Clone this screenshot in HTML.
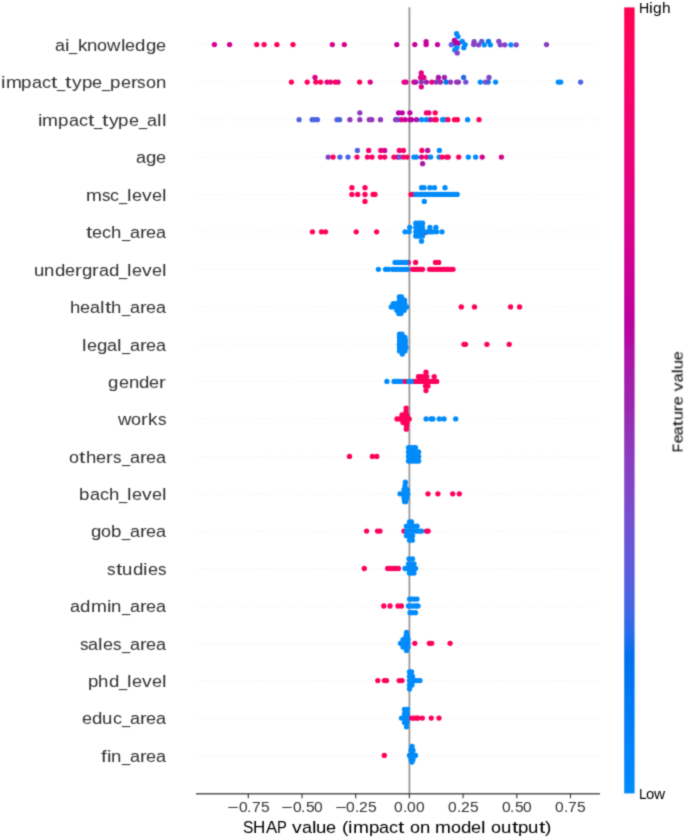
<!DOCTYPE html>
<html><head><meta charset="utf-8"><style>
html,body{margin:0;padding:0;background:#fff;}
body{width:685px;height:839px;overflow:hidden;position:relative;font-family:"Liberation Sans",sans-serif;}
#wrap{position:absolute;left:0;top:0;width:685px;height:839px;background:#fff;}
svg{position:absolute;left:0;top:0;}
.t{position:absolute;white-space:nowrap;line-height:1;transform-origin:0 0;}
.c{position:absolute;white-space:nowrap;line-height:1;width:1px;height:1px;}
.c span{position:absolute;top:0;transform-origin:0 0;}
</style></head><body><svg width="0" height="0" style="position:absolute"><filter id="bl" x="0" y="0" width="100%" height="100%" color-interpolation-filters="sRGB"><feConvolveMatrix order="3" kernelMatrix="0.02768 0.11101 0.02768 0.11101 0.44521 0.11101 0.02768 0.11101 0.02768" edgeMode="duplicate"/></filter></svg><div id="wrap" style="filter:url(#bl)">

<svg width="685" height="839" viewBox="0 0 685 839">
<defs><linearGradient id="cb" x1="0" y1="0" x2="0" y2="1"><stop offset="0.0000" stop-color="#ff0051"/><stop offset="0.0250" stop-color="#ff0057"/><stop offset="0.0500" stop-color="#fe005c"/><stop offset="0.0750" stop-color="#fc0062"/><stop offset="0.1000" stop-color="#f90067"/><stop offset="0.1250" stop-color="#f5006c"/><stop offset="0.1500" stop-color="#f20072"/><stop offset="0.1750" stop-color="#ee0077"/><stop offset="0.2000" stop-color="#e9007c"/><stop offset="0.2250" stop-color="#e50081"/><stop offset="0.2500" stop-color="#e00086"/><stop offset="0.2750" stop-color="#da008a"/><stop offset="0.3000" stop-color="#d5008f"/><stop offset="0.3250" stop-color="#cf0093"/><stop offset="0.3500" stop-color="#c80098"/><stop offset="0.3750" stop-color="#c2009c"/><stop offset="0.4000" stop-color="#bb00a0"/><stop offset="0.4250" stop-color="#b30aa3"/><stop offset="0.4500" stop-color="#ab15a7"/><stop offset="0.4750" stop-color="#a31daa"/><stop offset="0.5000" stop-color="#9b23ad"/><stop offset="0.5250" stop-color="#962db3"/><stop offset="0.5500" stop-color="#9135ba"/><stop offset="0.5750" stop-color="#8b3cc0"/><stop offset="0.6000" stop-color="#8443c6"/><stop offset="0.6250" stop-color="#7d49cb"/><stop offset="0.6500" stop-color="#754fd1"/><stop offset="0.6750" stop-color="#6c54d6"/><stop offset="0.7000" stop-color="#6359da"/><stop offset="0.7250" stop-color="#585edf"/><stop offset="0.7500" stop-color="#4b63e3"/><stop offset="0.7750" stop-color="#3b68e7"/><stop offset="0.8000" stop-color="#236cea"/><stop offset="0.8250" stop-color="#0070ed"/><stop offset="0.8500" stop-color="#0074f0"/><stop offset="0.8750" stop-color="#0078f3"/><stop offset="0.9000" stop-color="#007cf5"/><stop offset="0.9250" stop-color="#0080f7"/><stop offset="0.9500" stop-color="#0084f9"/><stop offset="0.9750" stop-color="#0087fa"/><stop offset="1.0000" stop-color="#008bfb"/></linearGradient></defs>
<line x1="196" y1="44.6" x2="600" y2="44.6" stroke="#cccccc" stroke-width="0.55" stroke-dasharray="0.7 3.05"/>
<line x1="196" y1="82.1" x2="600" y2="82.1" stroke="#cccccc" stroke-width="0.55" stroke-dasharray="0.7 3.05"/>
<line x1="196" y1="119.7" x2="600" y2="119.7" stroke="#cccccc" stroke-width="0.55" stroke-dasharray="0.7 3.05"/>
<line x1="196" y1="157.1" x2="600" y2="157.1" stroke="#cccccc" stroke-width="0.55" stroke-dasharray="0.7 3.05"/>
<line x1="196" y1="194.4" x2="600" y2="194.4" stroke="#cccccc" stroke-width="0.55" stroke-dasharray="0.7 3.05"/>
<line x1="196" y1="231.8" x2="600" y2="231.8" stroke="#cccccc" stroke-width="0.55" stroke-dasharray="0.7 3.05"/>
<line x1="196" y1="269.3" x2="600" y2="269.3" stroke="#cccccc" stroke-width="0.55" stroke-dasharray="0.7 3.05"/>
<line x1="196" y1="306.9" x2="600" y2="306.9" stroke="#cccccc" stroke-width="0.55" stroke-dasharray="0.7 3.05"/>
<line x1="196" y1="344.3" x2="600" y2="344.3" stroke="#cccccc" stroke-width="0.55" stroke-dasharray="0.7 3.05"/>
<line x1="196" y1="381.4" x2="600" y2="381.4" stroke="#cccccc" stroke-width="0.55" stroke-dasharray="0.7 3.05"/>
<line x1="196" y1="418.9" x2="600" y2="418.9" stroke="#cccccc" stroke-width="0.55" stroke-dasharray="0.7 3.05"/>
<line x1="196" y1="456.4" x2="600" y2="456.4" stroke="#cccccc" stroke-width="0.55" stroke-dasharray="0.7 3.05"/>
<line x1="196" y1="493.8" x2="600" y2="493.8" stroke="#cccccc" stroke-width="0.55" stroke-dasharray="0.7 3.05"/>
<line x1="196" y1="531.1" x2="600" y2="531.1" stroke="#cccccc" stroke-width="0.55" stroke-dasharray="0.7 3.05"/>
<line x1="196" y1="568.5" x2="600" y2="568.5" stroke="#cccccc" stroke-width="0.55" stroke-dasharray="0.7 3.05"/>
<line x1="196" y1="606.0" x2="600" y2="606.0" stroke="#cccccc" stroke-width="0.55" stroke-dasharray="0.7 3.05"/>
<line x1="196" y1="643.3" x2="600" y2="643.3" stroke="#cccccc" stroke-width="0.55" stroke-dasharray="0.7 3.05"/>
<line x1="196" y1="680.6" x2="600" y2="680.6" stroke="#cccccc" stroke-width="0.55" stroke-dasharray="0.7 3.05"/>
<line x1="196" y1="718.1" x2="600" y2="718.1" stroke="#cccccc" stroke-width="0.55" stroke-dasharray="0.7 3.05"/>
<line x1="196" y1="755.4" x2="600" y2="755.4" stroke="#cccccc" stroke-width="0.55" stroke-dasharray="0.7 3.05"/>
<line x1="409.4" y1="7.3" x2="409.4" y2="794" stroke="#999999" stroke-width="1.8"/>
<circle cx="214.4" cy="44.6" r="2.65" fill="#d5008f"/>
<circle cx="229.6" cy="44.6" r="2.65" fill="#d5008f"/>
<circle cx="256.7" cy="44.6" r="2.65" fill="#fe005c"/>
<circle cx="264.1" cy="44.6" r="2.65" fill="#fe005c"/>
<circle cx="276.9" cy="44.6" r="2.65" fill="#fe005c"/>
<circle cx="293.0" cy="44.6" r="2.65" fill="#fe005c"/>
<circle cx="332.3" cy="44.6" r="2.65" fill="#d9008b"/>
<circle cx="344.3" cy="44.6" r="2.65" fill="#d9008b"/>
<circle cx="396.8" cy="44.6" r="2.65" fill="#c0009c"/>
<circle cx="414.8" cy="44.6" r="2.65" fill="#c80098"/>
<circle cx="426.1" cy="41.6" r="2.65" fill="#c80098"/>
<circle cx="426.1" cy="44.6" r="2.65" fill="#c80098"/>
<circle cx="437.5" cy="44.6" r="2.65" fill="#c80098"/>
<circle cx="454.4" cy="40.4" r="2.65" fill="#bb00a0"/>
<circle cx="456.3" cy="42.6" r="2.65" fill="#bb00a0"/>
<circle cx="458.2" cy="43.2" r="2.65" fill="#bb00a0"/>
<circle cx="455.2" cy="43.5" r="2.65" fill="#bb00a0"/>
<circle cx="451.3" cy="44.7" r="2.65" fill="#5a5dde"/>
<circle cx="456.6" cy="33.7" r="2.65" fill="#008bfb"/>
<circle cx="458.0" cy="36.6" r="2.65" fill="#008bfb"/>
<circle cx="462.3" cy="41.4" r="2.65" fill="#008bfb"/>
<circle cx="465.1" cy="44.6" r="2.65" fill="#008bfb"/>
<circle cx="463.8" cy="47.7" r="2.65" fill="#008bfb"/>
<circle cx="456.9" cy="47.4" r="2.65" fill="#008bfb"/>
<circle cx="454.8" cy="49.9" r="2.65" fill="#008bfb"/>
<circle cx="457.2" cy="52.9" r="2.65" fill="#8443c6"/>
<circle cx="474.1" cy="41.7" r="2.65" fill="#8443c6"/>
<circle cx="473.7" cy="44.5" r="2.65" fill="#8443c6"/>
<circle cx="478.6" cy="44.8" r="2.65" fill="#8443c6"/>
<circle cx="481.7" cy="41.3" r="2.65" fill="#6359da"/>
<circle cx="484.3" cy="44.8" r="2.65" fill="#008bfb"/>
<circle cx="488.5" cy="41.3" r="2.65" fill="#007cf5"/>
<circle cx="490.4" cy="44.8" r="2.65" fill="#008bfb"/>
<circle cx="498.8" cy="41.3" r="2.65" fill="#8443c6"/>
<circle cx="500.3" cy="44.8" r="2.65" fill="#8443c6"/>
<circle cx="504.8" cy="44.8" r="2.65" fill="#8443c6"/>
<circle cx="510.9" cy="44.8" r="2.65" fill="#008bfb"/>
<circle cx="516.2" cy="44.8" r="2.65" fill="#8443c6"/>
<circle cx="546.5" cy="44.6" r="2.65" fill="#893dc1"/>
<circle cx="291.4" cy="82.1" r="2.65" fill="#fe005c"/>
<circle cx="307.2" cy="82.1" r="2.65" fill="#fe005c"/>
<circle cx="315.0" cy="77.5" r="2.65" fill="#e00086"/>
<circle cx="315.8" cy="82.1" r="2.65" fill="#fe005c"/>
<circle cx="320.6" cy="82.1" r="2.65" fill="#fe005c"/>
<circle cx="327.0" cy="82.1" r="2.65" fill="#e9007c"/>
<circle cx="330.4" cy="82.1" r="2.65" fill="#e9007c"/>
<circle cx="335.2" cy="82.1" r="2.65" fill="#fe005c"/>
<circle cx="338.1" cy="82.1" r="2.65" fill="#e9007c"/>
<circle cx="359.6" cy="82.1" r="2.65" fill="#fe005c"/>
<circle cx="370.2" cy="82.1" r="2.65" fill="#e00086"/>
<circle cx="404.1" cy="82.1" r="2.65" fill="#e00086"/>
<circle cx="406.0" cy="82.1" r="2.65" fill="#e00086"/>
<circle cx="413.9" cy="82.1" r="2.65" fill="#d9008b"/>
<circle cx="415.8" cy="82.1" r="2.65" fill="#ab15a7"/>
<circle cx="421.3" cy="72.9" r="2.65" fill="#e00086"/>
<circle cx="420.6" cy="77.5" r="2.65" fill="#e00086"/>
<circle cx="423.8" cy="77.5" r="2.65" fill="#e00086"/>
<circle cx="421.3" cy="82.1" r="2.65" fill="#9135ba"/>
<circle cx="421.3" cy="86.8" r="2.65" fill="#e00086"/>
<circle cx="426.4" cy="82.1" r="2.65" fill="#9b23ad"/>
<circle cx="431.8" cy="82.1" r="2.65" fill="#e9007c"/>
<circle cx="436.2" cy="82.1" r="2.65" fill="#9135ba"/>
<circle cx="438.4" cy="77.5" r="2.65" fill="#ab15a7"/>
<circle cx="440.4" cy="82.1" r="2.65" fill="#9b23ad"/>
<circle cx="444.4" cy="77.5" r="2.65" fill="#9b23ad"/>
<circle cx="446.1" cy="82.1" r="2.65" fill="#0074f0"/>
<circle cx="450.5" cy="82.1" r="2.65" fill="#9135ba"/>
<circle cx="456.6" cy="82.1" r="2.65" fill="#9135ba"/>
<circle cx="458.4" cy="82.1" r="2.65" fill="#9135ba"/>
<circle cx="463.6" cy="77.5" r="2.65" fill="#236cea"/>
<circle cx="465.8" cy="82.1" r="2.65" fill="#754fd1"/>
<circle cx="480.3" cy="82.1" r="2.65" fill="#008bfb"/>
<circle cx="488.2" cy="82.1" r="2.65" fill="#236cea"/>
<circle cx="485.5" cy="82.1" r="2.65" fill="#754fd1"/>
<circle cx="489.0" cy="77.5" r="2.65" fill="#7e48ca"/>
<circle cx="495.6" cy="82.1" r="2.65" fill="#008bfb"/>
<circle cx="558.3" cy="82.1" r="2.65" fill="#008bfb"/>
<circle cx="560.7" cy="82.1" r="2.65" fill="#008bfb"/>
<circle cx="580.6" cy="82.1" r="2.65" fill="#4b63e3"/>
<circle cx="299.1" cy="119.7" r="2.65" fill="#4b63e3"/>
<circle cx="312.2" cy="119.7" r="2.65" fill="#4b63e3"/>
<circle cx="314.8" cy="119.7" r="2.65" fill="#4b63e3"/>
<circle cx="317.4" cy="119.7" r="2.65" fill="#4b63e3"/>
<circle cx="337.0" cy="119.7" r="2.65" fill="#4b63e3"/>
<circle cx="339.6" cy="119.7" r="2.65" fill="#4b63e3"/>
<circle cx="349.9" cy="119.7" r="2.65" fill="#9135ba"/>
<circle cx="359.8" cy="112.8" r="2.65" fill="#9135ba"/>
<circle cx="359.8" cy="119.7" r="2.65" fill="#9135ba"/>
<circle cx="369.3" cy="119.7" r="2.65" fill="#9135ba"/>
<circle cx="371.8" cy="119.7" r="2.65" fill="#9135ba"/>
<circle cx="380.5" cy="119.7" r="2.65" fill="#9135ba"/>
<circle cx="397.4" cy="119.7" r="2.65" fill="#0084f9"/>
<circle cx="395.6" cy="119.7" r="2.65" fill="#893dc1"/>
<circle cx="401.2" cy="119.7" r="2.65" fill="#e00086"/>
<circle cx="405.1" cy="119.7" r="2.65" fill="#c80098"/>
<circle cx="409.9" cy="119.7" r="2.65" fill="#bb00a0"/>
<circle cx="411.4" cy="119.7" r="2.65" fill="#bb00a0"/>
<circle cx="416.5" cy="119.7" r="2.65" fill="#ab15a7"/>
<circle cx="421.6" cy="119.7" r="2.65" fill="#008bfb"/>
<circle cx="426.4" cy="119.7" r="2.65" fill="#008bfb"/>
<circle cx="430.4" cy="119.7" r="2.65" fill="#ab15a7"/>
<circle cx="434.7" cy="119.7" r="2.65" fill="#f90067"/>
<circle cx="436.2" cy="119.7" r="2.65" fill="#f90067"/>
<circle cx="442.5" cy="119.7" r="2.65" fill="#008bfb"/>
<circle cx="444.2" cy="119.7" r="2.65" fill="#008bfb"/>
<circle cx="447.9" cy="119.7" r="2.65" fill="#fe005c"/>
<circle cx="454.5" cy="119.7" r="2.65" fill="#fe005c"/>
<circle cx="457.4" cy="119.7" r="2.65" fill="#fe005c"/>
<circle cx="467.6" cy="119.7" r="2.65" fill="#008bfb"/>
<circle cx="479.0" cy="119.7" r="2.65" fill="#fe005c"/>
<circle cx="398.6" cy="112.8" r="2.65" fill="#bb00a0"/>
<circle cx="402.2" cy="112.8" r="2.65" fill="#bb00a0"/>
<circle cx="409.9" cy="112.8" r="2.65" fill="#bb00a0"/>
<circle cx="426.4" cy="112.8" r="2.65" fill="#f20072"/>
<circle cx="428.9" cy="112.8" r="2.65" fill="#f20072"/>
<circle cx="435.2" cy="112.8" r="2.65" fill="#fe005c"/>
<circle cx="328.2" cy="157.1" r="2.65" fill="#8443c6"/>
<circle cx="333.1" cy="157.1" r="2.65" fill="#f90067"/>
<circle cx="339.9" cy="157.1" r="2.65" fill="#4b63e3"/>
<circle cx="348.0" cy="157.1" r="2.65" fill="#4b63e3"/>
<circle cx="357.0" cy="157.1" r="2.65" fill="#f90067"/>
<circle cx="357.4" cy="150.4" r="2.65" fill="#4b63e3"/>
<circle cx="367.4" cy="157.1" r="2.65" fill="#f90067"/>
<circle cx="368.7" cy="150.4" r="2.65" fill="#f6006b"/>
<circle cx="372.0" cy="157.1" r="2.65" fill="#f90067"/>
<circle cx="380.4" cy="157.1" r="2.65" fill="#f90067"/>
<circle cx="380.8" cy="150.4" r="2.65" fill="#f90067"/>
<circle cx="384.7" cy="157.1" r="2.65" fill="#f90067"/>
<circle cx="384.7" cy="150.4" r="2.65" fill="#c80098"/>
<circle cx="393.9" cy="157.1" r="2.65" fill="#f90067"/>
<circle cx="397.6" cy="157.1" r="2.65" fill="#e9007c"/>
<circle cx="399.3" cy="150.4" r="2.65" fill="#f6006b"/>
<circle cx="399.8" cy="157.1" r="2.65" fill="#4b63e3"/>
<circle cx="403.4" cy="157.1" r="2.65" fill="#f90067"/>
<circle cx="403.4" cy="150.4" r="2.65" fill="#f6006b"/>
<circle cx="407.1" cy="157.1" r="2.65" fill="#f90067"/>
<circle cx="413.9" cy="157.1" r="2.65" fill="#008bfb"/>
<circle cx="416.4" cy="157.1" r="2.65" fill="#008bfb"/>
<circle cx="421.6" cy="157.1" r="2.65" fill="#e00086"/>
<circle cx="421.9" cy="150.4" r="2.65" fill="#f90067"/>
<circle cx="422.6" cy="163.7" r="2.65" fill="#ab15a7"/>
<circle cx="426.7" cy="157.1" r="2.65" fill="#f90067"/>
<circle cx="427.7" cy="150.4" r="2.65" fill="#ab15a7"/>
<circle cx="430.7" cy="157.1" r="2.65" fill="#008bfb"/>
<circle cx="439.1" cy="157.1" r="2.65" fill="#008bfb"/>
<circle cx="439.4" cy="150.4" r="2.65" fill="#008bfb"/>
<circle cx="442.0" cy="157.1" r="2.65" fill="#f90067"/>
<circle cx="446.4" cy="157.1" r="2.65" fill="#f90067"/>
<circle cx="448.2" cy="157.1" r="2.65" fill="#f90067"/>
<circle cx="458.7" cy="157.1" r="2.65" fill="#f90067"/>
<circle cx="468.3" cy="157.1" r="2.65" fill="#008bfb"/>
<circle cx="475.6" cy="157.1" r="2.65" fill="#008bfb"/>
<circle cx="482.2" cy="157.1" r="2.65" fill="#d5008f"/>
<circle cx="501.4" cy="157.1" r="2.65" fill="#d9008b"/>
<circle cx="351.9" cy="194.4" r="2.65" fill="#fe005c"/>
<circle cx="351.9" cy="187.7" r="2.65" fill="#fe005c"/>
<circle cx="357.7" cy="194.4" r="2.65" fill="#fe005c"/>
<circle cx="365.0" cy="194.4" r="2.65" fill="#fe005c"/>
<circle cx="365.0" cy="187.7" r="2.65" fill="#fe005c"/>
<circle cx="365.0" cy="201.4" r="2.65" fill="#fe005c"/>
<circle cx="373.1" cy="194.4" r="2.65" fill="#fe005c"/>
<circle cx="375.0" cy="194.4" r="2.65" fill="#fe005c"/>
<circle cx="414.0" cy="194.4" r="2.65" fill="#008bfb"/>
<circle cx="416.7" cy="194.4" r="2.65" fill="#008bfb"/>
<circle cx="419.4" cy="194.4" r="2.65" fill="#008bfb"/>
<circle cx="422.1" cy="194.4" r="2.65" fill="#008bfb"/>
<circle cx="424.8" cy="194.4" r="2.65" fill="#008bfb"/>
<circle cx="427.5" cy="194.4" r="2.65" fill="#008bfb"/>
<circle cx="430.2" cy="194.4" r="2.65" fill="#008bfb"/>
<circle cx="432.9" cy="194.4" r="2.65" fill="#008bfb"/>
<circle cx="435.6" cy="194.4" r="2.65" fill="#008bfb"/>
<circle cx="438.3" cy="194.4" r="2.65" fill="#008bfb"/>
<circle cx="441.0" cy="194.4" r="2.65" fill="#008bfb"/>
<circle cx="443.7" cy="194.4" r="2.65" fill="#008bfb"/>
<circle cx="446.4" cy="194.4" r="2.65" fill="#008bfb"/>
<circle cx="449.1" cy="194.4" r="2.65" fill="#008bfb"/>
<circle cx="451.8" cy="194.4" r="2.65" fill="#008bfb"/>
<circle cx="454.5" cy="194.4" r="2.65" fill="#008bfb"/>
<circle cx="457.2" cy="194.4" r="2.65" fill="#008bfb"/>
<circle cx="421.6" cy="187.7" r="2.65" fill="#008bfb"/>
<circle cx="424.0" cy="187.7" r="2.65" fill="#008bfb"/>
<circle cx="429.8" cy="187.7" r="2.65" fill="#008bfb"/>
<circle cx="434.5" cy="187.7" r="2.65" fill="#008bfb"/>
<circle cx="445.0" cy="187.7" r="2.65" fill="#008bfb"/>
<circle cx="424.3" cy="201.4" r="2.65" fill="#008bfb"/>
<circle cx="411.1" cy="194.4" r="2.65" fill="#fe005c"/>
<circle cx="312.4" cy="231.8" r="2.65" fill="#fe005c"/>
<circle cx="321.5" cy="231.8" r="2.65" fill="#fe005c"/>
<circle cx="325.5" cy="231.8" r="2.65" fill="#fe005c"/>
<circle cx="356.2" cy="231.8" r="2.65" fill="#fe005c"/>
<circle cx="376.6" cy="231.8" r="2.65" fill="#fe005c"/>
<circle cx="425.3" cy="232.6" r="2.65" fill="#f90067"/>
<circle cx="405.0" cy="231.8" r="2.65" fill="#008bfb"/>
<circle cx="409.1" cy="231.8" r="2.65" fill="#008bfb"/>
<circle cx="415.8" cy="231.8" r="2.65" fill="#008bfb"/>
<circle cx="418.1" cy="231.8" r="2.65" fill="#008bfb"/>
<circle cx="420.3" cy="231.8" r="2.65" fill="#008bfb"/>
<circle cx="422.5" cy="231.8" r="2.65" fill="#008bfb"/>
<circle cx="425.3" cy="231.8" r="2.65" fill="#008bfb"/>
<circle cx="428.0" cy="231.8" r="2.65" fill="#008bfb"/>
<circle cx="430.5" cy="231.8" r="2.65" fill="#008bfb"/>
<circle cx="433.0" cy="231.8" r="2.65" fill="#008bfb"/>
<circle cx="436.6" cy="231.8" r="2.65" fill="#008bfb"/>
<circle cx="442.0" cy="231.8" r="2.65" fill="#008bfb"/>
<circle cx="409.7" cy="227.5" r="2.65" fill="#008bfb"/>
<circle cx="415.8" cy="227.5" r="2.65" fill="#008bfb"/>
<circle cx="418.1" cy="227.5" r="2.65" fill="#008bfb"/>
<circle cx="420.3" cy="227.5" r="2.65" fill="#008bfb"/>
<circle cx="422.5" cy="227.5" r="2.65" fill="#008bfb"/>
<circle cx="429.9" cy="227.5" r="2.65" fill="#008bfb"/>
<circle cx="435.9" cy="227.5" r="2.65" fill="#008bfb"/>
<circle cx="415.8" cy="223.2" r="2.65" fill="#008bfb"/>
<circle cx="418.1" cy="223.2" r="2.65" fill="#008bfb"/>
<circle cx="420.3" cy="223.2" r="2.65" fill="#008bfb"/>
<circle cx="422.5" cy="223.2" r="2.65" fill="#008bfb"/>
<circle cx="415.8" cy="236.0" r="2.65" fill="#008bfb"/>
<circle cx="418.1" cy="236.0" r="2.65" fill="#008bfb"/>
<circle cx="420.3" cy="236.0" r="2.65" fill="#008bfb"/>
<circle cx="422.5" cy="236.0" r="2.65" fill="#008bfb"/>
<circle cx="421.5" cy="241.2" r="2.65" fill="#008bfb"/>
<circle cx="378.4" cy="269.3" r="2.65" fill="#008bfb"/>
<circle cx="385.5" cy="269.3" r="2.65" fill="#008bfb"/>
<circle cx="388.5" cy="269.3" r="2.65" fill="#008bfb"/>
<circle cx="392.5" cy="269.3" r="2.65" fill="#008bfb"/>
<circle cx="395.0" cy="269.3" r="2.65" fill="#008bfb"/>
<circle cx="397.5" cy="269.3" r="2.65" fill="#008bfb"/>
<circle cx="400.0" cy="269.3" r="2.65" fill="#008bfb"/>
<circle cx="402.5" cy="269.3" r="2.65" fill="#008bfb"/>
<circle cx="405.0" cy="269.3" r="2.65" fill="#008bfb"/>
<circle cx="407.5" cy="269.3" r="2.65" fill="#008bfb"/>
<circle cx="408.3" cy="262.4" r="2.65" fill="#fe005c"/>
<circle cx="395.0" cy="262.4" r="2.65" fill="#008bfb"/>
<circle cx="398.0" cy="262.4" r="2.65" fill="#008bfb"/>
<circle cx="401.0" cy="262.4" r="2.65" fill="#008bfb"/>
<circle cx="404.0" cy="262.4" r="2.65" fill="#008bfb"/>
<circle cx="406.4" cy="262.4" r="2.65" fill="#008bfb"/>
<circle cx="412.5" cy="269.3" r="2.65" fill="#fe005c"/>
<circle cx="415.0" cy="269.3" r="2.65" fill="#fe005c"/>
<circle cx="417.5" cy="269.3" r="2.65" fill="#fe005c"/>
<circle cx="420.0" cy="269.3" r="2.65" fill="#fe005c"/>
<circle cx="422.5" cy="269.3" r="2.65" fill="#fe005c"/>
<circle cx="429.6" cy="269.3" r="2.65" fill="#fe005c"/>
<circle cx="432.2" cy="269.3" r="2.65" fill="#fe005c"/>
<circle cx="434.8" cy="269.3" r="2.65" fill="#fe005c"/>
<circle cx="437.4" cy="269.3" r="2.65" fill="#fe005c"/>
<circle cx="440.0" cy="269.3" r="2.65" fill="#fe005c"/>
<circle cx="442.6" cy="269.3" r="2.65" fill="#fe005c"/>
<circle cx="445.2" cy="269.3" r="2.65" fill="#fe005c"/>
<circle cx="447.8" cy="269.3" r="2.65" fill="#fe005c"/>
<circle cx="450.4" cy="269.3" r="2.65" fill="#fe005c"/>
<circle cx="453.0" cy="269.3" r="2.65" fill="#fe005c"/>
<circle cx="415.6" cy="262.4" r="2.65" fill="#fe005c"/>
<circle cx="435.5" cy="262.4" r="2.65" fill="#fe005c"/>
<circle cx="438.7" cy="262.4" r="2.65" fill="#fe005c"/>
<circle cx="399.3" cy="296.8" r="2.65" fill="#008bfb"/>
<circle cx="401.5" cy="296.8" r="2.65" fill="#008bfb"/>
<circle cx="399.5" cy="300.2" r="2.65" fill="#008bfb"/>
<circle cx="402.0" cy="300.2" r="2.65" fill="#008bfb"/>
<circle cx="404.5" cy="300.2" r="2.65" fill="#008bfb"/>
<circle cx="393.3" cy="303.6" r="2.65" fill="#008bfb"/>
<circle cx="396.0" cy="303.6" r="2.65" fill="#008bfb"/>
<circle cx="398.5" cy="303.6" r="2.65" fill="#008bfb"/>
<circle cx="401.0" cy="303.6" r="2.65" fill="#008bfb"/>
<circle cx="403.5" cy="303.6" r="2.65" fill="#008bfb"/>
<circle cx="404.7" cy="303.6" r="2.65" fill="#008bfb"/>
<circle cx="391.3" cy="306.9" r="2.65" fill="#008bfb"/>
<circle cx="394.0" cy="306.9" r="2.65" fill="#008bfb"/>
<circle cx="396.7" cy="306.9" r="2.65" fill="#008bfb"/>
<circle cx="399.4" cy="306.9" r="2.65" fill="#008bfb"/>
<circle cx="402.1" cy="306.9" r="2.65" fill="#008bfb"/>
<circle cx="404.8" cy="306.9" r="2.65" fill="#008bfb"/>
<circle cx="406.5" cy="306.9" r="2.65" fill="#008bfb"/>
<circle cx="396.8" cy="310.3" r="2.65" fill="#008bfb"/>
<circle cx="399.4" cy="310.3" r="2.65" fill="#008bfb"/>
<circle cx="402.0" cy="310.3" r="2.65" fill="#008bfb"/>
<circle cx="404.2" cy="310.3" r="2.65" fill="#008bfb"/>
<circle cx="398.8" cy="313.5" r="2.65" fill="#008bfb"/>
<circle cx="401.0" cy="313.5" r="2.65" fill="#008bfb"/>
<circle cx="461.3" cy="306.9" r="2.65" fill="#fe005c"/>
<circle cx="474.5" cy="306.9" r="2.65" fill="#fe005c"/>
<circle cx="510.5" cy="306.9" r="2.65" fill="#fe005c"/>
<circle cx="519.6" cy="306.9" r="2.65" fill="#fe005c"/>
<circle cx="399.5" cy="334.2" r="2.65" fill="#008bfb"/>
<circle cx="402.0" cy="334.2" r="2.65" fill="#008bfb"/>
<circle cx="399.5" cy="337.5" r="2.65" fill="#008bfb"/>
<circle cx="402.5" cy="337.5" r="2.65" fill="#008bfb"/>
<circle cx="405.0" cy="337.5" r="2.65" fill="#008bfb"/>
<circle cx="399.5" cy="340.8" r="2.65" fill="#008bfb"/>
<circle cx="402.5" cy="340.8" r="2.65" fill="#008bfb"/>
<circle cx="405.5" cy="340.8" r="2.65" fill="#008bfb"/>
<circle cx="399.3" cy="344.3" r="2.65" fill="#008bfb"/>
<circle cx="402.3" cy="344.3" r="2.65" fill="#008bfb"/>
<circle cx="405.3" cy="344.3" r="2.65" fill="#008bfb"/>
<circle cx="399.5" cy="347.6" r="2.65" fill="#008bfb"/>
<circle cx="402.5" cy="347.6" r="2.65" fill="#008bfb"/>
<circle cx="406.0" cy="347.6" r="2.65" fill="#008bfb"/>
<circle cx="399.5" cy="350.9" r="2.65" fill="#008bfb"/>
<circle cx="402.5" cy="350.9" r="2.65" fill="#008bfb"/>
<circle cx="405.0" cy="350.9" r="2.65" fill="#008bfb"/>
<circle cx="402.3" cy="354.1" r="2.65" fill="#008bfb"/>
<circle cx="464.0" cy="344.3" r="2.65" fill="#fe005c"/>
<circle cx="465.5" cy="344.3" r="2.65" fill="#fe005c"/>
<circle cx="486.9" cy="344.3" r="2.65" fill="#fe005c"/>
<circle cx="509.2" cy="344.3" r="2.65" fill="#fe005c"/>
<circle cx="386.9" cy="381.4" r="2.65" fill="#008bfb"/>
<circle cx="394.1" cy="381.4" r="2.65" fill="#008bfb"/>
<circle cx="396.6" cy="381.4" r="2.65" fill="#008bfb"/>
<circle cx="399.0" cy="381.4" r="2.65" fill="#008bfb"/>
<circle cx="401.5" cy="381.4" r="2.65" fill="#008bfb"/>
<circle cx="405.3" cy="381.4" r="2.65" fill="#fe005c"/>
<circle cx="414.2" cy="381.4" r="2.65" fill="#fe005c"/>
<circle cx="416.7" cy="381.4" r="2.65" fill="#fe005c"/>
<circle cx="419.2" cy="381.4" r="2.65" fill="#fe005c"/>
<circle cx="421.7" cy="381.4" r="2.65" fill="#fe005c"/>
<circle cx="424.2" cy="381.4" r="2.65" fill="#fe005c"/>
<circle cx="426.7" cy="381.4" r="2.65" fill="#fe005c"/>
<circle cx="429.2" cy="381.4" r="2.65" fill="#fe005c"/>
<circle cx="431.7" cy="381.4" r="2.65" fill="#fe005c"/>
<circle cx="434.2" cy="381.4" r="2.65" fill="#fe005c"/>
<circle cx="436.7" cy="381.4" r="2.65" fill="#fe005c"/>
<circle cx="408.7" cy="381.4" r="2.65" fill="#008bfb"/>
<circle cx="411.2" cy="381.4" r="2.65" fill="#008bfb"/>
<circle cx="418.5" cy="376.6" r="2.65" fill="#fe005c"/>
<circle cx="421.2" cy="376.6" r="2.65" fill="#fe005c"/>
<circle cx="424.0" cy="376.6" r="2.65" fill="#fe005c"/>
<circle cx="426.8" cy="376.6" r="2.65" fill="#fe005c"/>
<circle cx="434.2" cy="376.6" r="2.65" fill="#fe005c"/>
<circle cx="426.0" cy="372.2" r="2.65" fill="#fe005c"/>
<circle cx="425.5" cy="386.1" r="2.65" fill="#fe005c"/>
<circle cx="428.0" cy="386.1" r="2.65" fill="#fe005c"/>
<circle cx="426.0" cy="390.6" r="2.65" fill="#fe005c"/>
<circle cx="406.2" cy="408.1" r="2.65" fill="#fe005c"/>
<circle cx="406.0" cy="411.5" r="2.65" fill="#fe005c"/>
<circle cx="402.0" cy="415.0" r="2.65" fill="#fe005c"/>
<circle cx="404.5" cy="415.0" r="2.65" fill="#fe005c"/>
<circle cx="407.0" cy="415.0" r="2.65" fill="#fe005c"/>
<circle cx="397.0" cy="418.9" r="2.65" fill="#fe005c"/>
<circle cx="399.6" cy="418.9" r="2.65" fill="#fe005c"/>
<circle cx="402.2" cy="418.9" r="2.65" fill="#fe005c"/>
<circle cx="404.8" cy="418.9" r="2.65" fill="#fe005c"/>
<circle cx="407.4" cy="418.9" r="2.65" fill="#fe005c"/>
<circle cx="409.2" cy="418.9" r="2.65" fill="#fe005c"/>
<circle cx="403.0" cy="422.5" r="2.65" fill="#fe005c"/>
<circle cx="405.5" cy="422.5" r="2.65" fill="#fe005c"/>
<circle cx="407.0" cy="422.5" r="2.65" fill="#fe005c"/>
<circle cx="406.5" cy="425.8" r="2.65" fill="#fe005c"/>
<circle cx="406.3" cy="429.2" r="2.65" fill="#fe005c"/>
<circle cx="426.1" cy="418.9" r="2.65" fill="#008bfb"/>
<circle cx="431.1" cy="418.9" r="2.65" fill="#008bfb"/>
<circle cx="432.9" cy="418.9" r="2.65" fill="#008bfb"/>
<circle cx="439.3" cy="418.9" r="2.65" fill="#008bfb"/>
<circle cx="444.0" cy="418.9" r="2.65" fill="#008bfb"/>
<circle cx="455.7" cy="418.9" r="2.65" fill="#008bfb"/>
<circle cx="349.5" cy="456.4" r="2.65" fill="#fe005c"/>
<circle cx="372.4" cy="456.4" r="2.65" fill="#fe005c"/>
<circle cx="376.8" cy="456.4" r="2.65" fill="#fe005c"/>
<circle cx="408.5" cy="447.6" r="2.65" fill="#008bfb"/>
<circle cx="411.0" cy="447.6" r="2.65" fill="#008bfb"/>
<circle cx="413.5" cy="447.6" r="2.65" fill="#008bfb"/>
<circle cx="415.5" cy="447.6" r="2.65" fill="#008bfb"/>
<circle cx="408.5" cy="452.0" r="2.65" fill="#008bfb"/>
<circle cx="411.0" cy="452.0" r="2.65" fill="#008bfb"/>
<circle cx="413.5" cy="452.0" r="2.65" fill="#008bfb"/>
<circle cx="416.0" cy="452.0" r="2.65" fill="#008bfb"/>
<circle cx="418.6" cy="452.0" r="2.65" fill="#008bfb"/>
<circle cx="408.5" cy="456.4" r="2.65" fill="#008bfb"/>
<circle cx="411.0" cy="456.4" r="2.65" fill="#008bfb"/>
<circle cx="413.5" cy="456.4" r="2.65" fill="#008bfb"/>
<circle cx="416.0" cy="456.4" r="2.65" fill="#008bfb"/>
<circle cx="418.6" cy="456.4" r="2.65" fill="#008bfb"/>
<circle cx="408.5" cy="461.0" r="2.65" fill="#008bfb"/>
<circle cx="411.0" cy="461.0" r="2.65" fill="#008bfb"/>
<circle cx="413.5" cy="461.0" r="2.65" fill="#008bfb"/>
<circle cx="416.0" cy="461.0" r="2.65" fill="#008bfb"/>
<circle cx="418.6" cy="461.0" r="2.65" fill="#008bfb"/>
<circle cx="405.4" cy="482.2" r="2.65" fill="#008bfb"/>
<circle cx="405.0" cy="485.8" r="2.65" fill="#008bfb"/>
<circle cx="404.0" cy="489.6" r="2.65" fill="#008bfb"/>
<circle cx="407.4" cy="489.6" r="2.65" fill="#008bfb"/>
<circle cx="400.0" cy="493.8" r="2.65" fill="#008bfb"/>
<circle cx="402.5" cy="493.8" r="2.65" fill="#008bfb"/>
<circle cx="405.0" cy="493.8" r="2.65" fill="#008bfb"/>
<circle cx="407.8" cy="493.8" r="2.65" fill="#008bfb"/>
<circle cx="404.0" cy="497.8" r="2.65" fill="#008bfb"/>
<circle cx="407.0" cy="497.8" r="2.65" fill="#008bfb"/>
<circle cx="404.5" cy="501.5" r="2.65" fill="#008bfb"/>
<circle cx="405.8" cy="501.5" r="2.65" fill="#008bfb"/>
<circle cx="428.0" cy="493.8" r="2.65" fill="#fe005c"/>
<circle cx="437.9" cy="493.8" r="2.65" fill="#fe005c"/>
<circle cx="452.7" cy="493.8" r="2.65" fill="#fe005c"/>
<circle cx="459.3" cy="493.8" r="2.65" fill="#fe005c"/>
<circle cx="366.6" cy="531.1" r="2.65" fill="#fe005c"/>
<circle cx="377.5" cy="531.1" r="2.65" fill="#fe005c"/>
<circle cx="380.0" cy="531.1" r="2.65" fill="#fe005c"/>
<circle cx="404.0" cy="531.1" r="2.65" fill="#fe005c"/>
<circle cx="426.5" cy="531.1" r="2.65" fill="#fe005c"/>
<circle cx="428.2" cy="531.1" r="2.65" fill="#fe005c"/>
<circle cx="409.5" cy="521.8" r="2.65" fill="#008bfb"/>
<circle cx="411.5" cy="521.8" r="2.65" fill="#008bfb"/>
<circle cx="406.5" cy="526.2" r="2.65" fill="#008bfb"/>
<circle cx="409.0" cy="526.2" r="2.65" fill="#008bfb"/>
<circle cx="411.5" cy="526.2" r="2.65" fill="#008bfb"/>
<circle cx="414.0" cy="526.2" r="2.65" fill="#008bfb"/>
<circle cx="417.0" cy="526.2" r="2.65" fill="#008bfb"/>
<circle cx="406.5" cy="531.1" r="2.65" fill="#008bfb"/>
<circle cx="409.0" cy="531.1" r="2.65" fill="#008bfb"/>
<circle cx="411.5" cy="531.1" r="2.65" fill="#008bfb"/>
<circle cx="414.0" cy="531.1" r="2.65" fill="#008bfb"/>
<circle cx="416.5" cy="531.1" r="2.65" fill="#008bfb"/>
<circle cx="419.0" cy="531.1" r="2.65" fill="#008bfb"/>
<circle cx="421.5" cy="531.1" r="2.65" fill="#008bfb"/>
<circle cx="406.5" cy="535.7" r="2.65" fill="#008bfb"/>
<circle cx="409.2" cy="535.7" r="2.65" fill="#008bfb"/>
<circle cx="412.5" cy="535.7" r="2.65" fill="#008bfb"/>
<circle cx="409.5" cy="540.2" r="2.65" fill="#008bfb"/>
<circle cx="412.3" cy="540.2" r="2.65" fill="#008bfb"/>
<circle cx="364.3" cy="568.5" r="2.65" fill="#fe005c"/>
<circle cx="387.7" cy="568.5" r="2.65" fill="#fe005c"/>
<circle cx="390.4" cy="568.5" r="2.65" fill="#fe005c"/>
<circle cx="393.0" cy="568.5" r="2.65" fill="#fe005c"/>
<circle cx="395.7" cy="568.5" r="2.65" fill="#fe005c"/>
<circle cx="398.4" cy="568.5" r="2.65" fill="#fe005c"/>
<circle cx="409.0" cy="558.8" r="2.65" fill="#008bfb"/>
<circle cx="412.5" cy="558.8" r="2.65" fill="#008bfb"/>
<circle cx="408.5" cy="563.8" r="2.65" fill="#008bfb"/>
<circle cx="411.0" cy="563.8" r="2.65" fill="#008bfb"/>
<circle cx="414.0" cy="563.8" r="2.65" fill="#008bfb"/>
<circle cx="405.0" cy="568.5" r="2.65" fill="#008bfb"/>
<circle cx="407.5" cy="568.5" r="2.65" fill="#008bfb"/>
<circle cx="410.0" cy="568.5" r="2.65" fill="#008bfb"/>
<circle cx="412.5" cy="568.5" r="2.65" fill="#008bfb"/>
<circle cx="415.5" cy="568.5" r="2.65" fill="#008bfb"/>
<circle cx="409.3" cy="573.1" r="2.65" fill="#008bfb"/>
<circle cx="411.5" cy="573.1" r="2.65" fill="#008bfb"/>
<circle cx="414.0" cy="573.1" r="2.65" fill="#008bfb"/>
<circle cx="383.8" cy="606.0" r="2.65" fill="#fe005c"/>
<circle cx="390.0" cy="606.0" r="2.65" fill="#fe005c"/>
<circle cx="398.0" cy="606.0" r="2.65" fill="#fe005c"/>
<circle cx="401.4" cy="606.0" r="2.65" fill="#fe005c"/>
<circle cx="409.5" cy="599.1" r="2.65" fill="#008bfb"/>
<circle cx="412.0" cy="599.1" r="2.65" fill="#008bfb"/>
<circle cx="414.5" cy="599.1" r="2.65" fill="#008bfb"/>
<circle cx="417.0" cy="599.1" r="2.65" fill="#008bfb"/>
<circle cx="408.5" cy="606.0" r="2.65" fill="#008bfb"/>
<circle cx="411.0" cy="606.0" r="2.65" fill="#008bfb"/>
<circle cx="413.5" cy="606.0" r="2.65" fill="#008bfb"/>
<circle cx="416.0" cy="606.0" r="2.65" fill="#008bfb"/>
<circle cx="418.0" cy="606.0" r="2.65" fill="#008bfb"/>
<circle cx="410.0" cy="612.7" r="2.65" fill="#008bfb"/>
<circle cx="412.5" cy="612.7" r="2.65" fill="#008bfb"/>
<circle cx="415.5" cy="612.7" r="2.65" fill="#008bfb"/>
<circle cx="406.6" cy="632.5" r="2.65" fill="#008bfb"/>
<circle cx="406.0" cy="636.0" r="2.65" fill="#008bfb"/>
<circle cx="407.5" cy="636.0" r="2.65" fill="#008bfb"/>
<circle cx="403.0" cy="639.7" r="2.65" fill="#008bfb"/>
<circle cx="405.5" cy="639.7" r="2.65" fill="#008bfb"/>
<circle cx="408.0" cy="639.7" r="2.65" fill="#008bfb"/>
<circle cx="400.5" cy="643.3" r="2.65" fill="#008bfb"/>
<circle cx="403.0" cy="643.3" r="2.65" fill="#008bfb"/>
<circle cx="405.5" cy="643.3" r="2.65" fill="#008bfb"/>
<circle cx="408.0" cy="643.3" r="2.65" fill="#008bfb"/>
<circle cx="403.0" cy="647.0" r="2.65" fill="#008bfb"/>
<circle cx="405.5" cy="647.0" r="2.65" fill="#008bfb"/>
<circle cx="408.0" cy="647.0" r="2.65" fill="#008bfb"/>
<circle cx="406.5" cy="650.5" r="2.65" fill="#008bfb"/>
<circle cx="414.8" cy="643.3" r="2.65" fill="#fe005c"/>
<circle cx="429.4" cy="643.3" r="2.65" fill="#fe005c"/>
<circle cx="431.7" cy="643.3" r="2.65" fill="#fe005c"/>
<circle cx="450.1" cy="643.3" r="2.65" fill="#fe005c"/>
<circle cx="377.8" cy="680.6" r="2.65" fill="#fe005c"/>
<circle cx="384.4" cy="680.6" r="2.65" fill="#fe005c"/>
<circle cx="386.5" cy="680.6" r="2.65" fill="#fe005c"/>
<circle cx="399.2" cy="680.6" r="2.65" fill="#fe005c"/>
<circle cx="402.0" cy="680.6" r="2.65" fill="#fe005c"/>
<circle cx="409.5" cy="672.0" r="2.65" fill="#008bfb"/>
<circle cx="411.5" cy="672.0" r="2.65" fill="#008bfb"/>
<circle cx="409.5" cy="676.3" r="2.65" fill="#008bfb"/>
<circle cx="412.5" cy="676.3" r="2.65" fill="#008bfb"/>
<circle cx="409.5" cy="680.6" r="2.65" fill="#008bfb"/>
<circle cx="412.0" cy="680.6" r="2.65" fill="#008bfb"/>
<circle cx="414.5" cy="680.6" r="2.65" fill="#008bfb"/>
<circle cx="417.0" cy="680.6" r="2.65" fill="#008bfb"/>
<circle cx="420.0" cy="680.6" r="2.65" fill="#008bfb"/>
<circle cx="409.5" cy="685.0" r="2.65" fill="#008bfb"/>
<circle cx="412.0" cy="685.0" r="2.65" fill="#008bfb"/>
<circle cx="409.5" cy="689.0" r="2.65" fill="#008bfb"/>
<circle cx="404.5" cy="709.5" r="2.65" fill="#008bfb"/>
<circle cx="407.5" cy="709.5" r="2.65" fill="#008bfb"/>
<circle cx="404.5" cy="714.0" r="2.65" fill="#008bfb"/>
<circle cx="407.5" cy="714.0" r="2.65" fill="#008bfb"/>
<circle cx="401.5" cy="718.1" r="2.65" fill="#008bfb"/>
<circle cx="404.0" cy="718.1" r="2.65" fill="#008bfb"/>
<circle cx="406.5" cy="718.1" r="2.65" fill="#008bfb"/>
<circle cx="408.5" cy="718.1" r="2.65" fill="#008bfb"/>
<circle cx="404.5" cy="722.5" r="2.65" fill="#008bfb"/>
<circle cx="407.0" cy="722.5" r="2.65" fill="#008bfb"/>
<circle cx="406.5" cy="726.8" r="2.65" fill="#008bfb"/>
<circle cx="411.7" cy="718.1" r="2.65" fill="#fe005c"/>
<circle cx="414.0" cy="718.1" r="2.65" fill="#fe005c"/>
<circle cx="416.5" cy="718.1" r="2.65" fill="#fe005c"/>
<circle cx="418.0" cy="718.1" r="2.65" fill="#fe005c"/>
<circle cx="422.3" cy="718.1" r="2.65" fill="#fe005c"/>
<circle cx="431.2" cy="718.1" r="2.65" fill="#fe005c"/>
<circle cx="439.0" cy="718.1" r="2.65" fill="#fe005c"/>
<circle cx="384.3" cy="755.4" r="2.65" fill="#fe005c"/>
<circle cx="412.0" cy="746.5" r="2.65" fill="#008bfb"/>
<circle cx="411.0" cy="750.5" r="2.65" fill="#008bfb"/>
<circle cx="413.0" cy="750.5" r="2.65" fill="#008bfb"/>
<circle cx="409.5" cy="755.4" r="2.65" fill="#008bfb"/>
<circle cx="412.0" cy="755.4" r="2.65" fill="#008bfb"/>
<circle cx="414.5" cy="755.4" r="2.65" fill="#008bfb"/>
<circle cx="415.5" cy="755.4" r="2.65" fill="#008bfb"/>
<circle cx="411.0" cy="759.5" r="2.65" fill="#008bfb"/>
<circle cx="413.0" cy="759.5" r="2.65" fill="#008bfb"/>
<circle cx="412.0" cy="762.0" r="2.65" fill="#008bfb"/>
<line x1="196" y1="793.8" x2="600" y2="793.8" stroke="#555" stroke-width="1.4"/>
<line x1="248.30" y1="793.8" x2="248.30" y2="798.3" stroke="#333" stroke-width="1.1"/>
<line x1="302.00" y1="793.8" x2="302.00" y2="798.3" stroke="#333" stroke-width="1.1"/>
<line x1="355.70" y1="793.8" x2="355.70" y2="798.3" stroke="#333" stroke-width="1.1"/>
<line x1="409.40" y1="793.8" x2="409.40" y2="798.3" stroke="#333" stroke-width="1.1"/>
<line x1="463.10" y1="793.8" x2="463.10" y2="798.3" stroke="#333" stroke-width="1.1"/>
<line x1="516.80" y1="793.8" x2="516.80" y2="798.3" stroke="#333" stroke-width="1.1"/>
<line x1="570.50" y1="793.8" x2="570.50" y2="798.3" stroke="#333" stroke-width="1.1"/>
<rect x="624.2" y="7.4" width="10.4" height="786" fill="url(#cb)"/>
</svg>
<div class="c" style="left:54.84px;top:36.96px;font-size:17.3px;color:#333;"><span style="left:0.00px;transform:scaleX(1.041)">a</span><span style="left:10.02px;transform:scaleX(1.182)">i</span><span style="left:14.56px;transform:scaleX(0.850)">_</span><span style="left:22.74px;transform:scaleX(1.095)">k</span><span style="left:32.21px;transform:scaleX(1.077)">n</span><span style="left:42.57px;transform:scaleX(1.040)">o</span><span style="left:52.57px;transform:scaleX(1.070)">w</span><span style="left:65.94px;transform:scaleX(1.182)">l</span><span style="left:70.49px;transform:scaleX(1.045)">e</span><span style="left:80.54px;transform:scaleX(1.079)">d</span><span style="left:90.92px;transform:scaleX(1.079)">g</span><span style="left:101.30px;transform:scaleX(1.045)">e</span></div>
<div class="c" style="left:1.01px;top:74.46px;font-size:17.3px;color:#333;"><span style="left:0.00px;transform:scaleX(1.182)">i</span><span style="left:4.54px;transform:scaleX(1.105)">m</span><span style="left:20.47px;transform:scaleX(1.079)">p</span><span style="left:30.85px;transform:scaleX(1.041)">a</span><span style="left:40.87px;transform:scaleX(1.039)">c</span><span style="left:49.86px;transform:scaleX(1.334)">t</span><span style="left:56.27px;transform:scaleX(0.850)">_</span><span style="left:64.44px;transform:scaleX(1.334)">t</span><span style="left:70.85px;transform:scaleX(1.119)">y</span><span style="left:80.53px;transform:scaleX(1.079)">p</span><span style="left:90.91px;transform:scaleX(1.045)">e</span><span style="left:100.97px;transform:scaleX(0.850)">_</span><span style="left:109.14px;transform:scaleX(1.079)">p</span><span style="left:119.52px;transform:scaleX(1.045)">e</span><span style="left:129.58px;transform:scaleX(1.167)">r</span><span style="left:136.30px;transform:scaleX(0.985)">s</span><span style="left:144.82px;transform:scaleX(1.040)">o</span><span style="left:154.82px;transform:scaleX(1.077)">n</span></div>
<div class="c" style="left:37.95px;top:112.06px;font-size:17.3px;color:#333;"><span style="left:0.00px;transform:scaleX(1.182)">i</span><span style="left:4.54px;transform:scaleX(1.105)">m</span><span style="left:20.47px;transform:scaleX(1.079)">p</span><span style="left:30.85px;transform:scaleX(1.041)">a</span><span style="left:40.87px;transform:scaleX(1.039)">c</span><span style="left:49.86px;transform:scaleX(1.334)">t</span><span style="left:56.27px;transform:scaleX(0.850)">_</span><span style="left:64.44px;transform:scaleX(1.334)">t</span><span style="left:70.85px;transform:scaleX(1.119)">y</span><span style="left:80.53px;transform:scaleX(1.079)">p</span><span style="left:90.91px;transform:scaleX(1.045)">e</span><span style="left:100.97px;transform:scaleX(0.850)">_</span><span style="left:109.14px;transform:scaleX(1.041)">a</span><span style="left:119.16px;transform:scaleX(1.182)">l</span><span style="left:123.70px;transform:scaleX(1.182)">l</span></div>
<div class="c" style="left:135.74px;top:149.46px;font-size:17.3px;color:#333;"><span style="left:0.00px;transform:scaleX(1.041)">a</span><span style="left:10.02px;transform:scaleX(1.079)">g</span><span style="left:20.40px;transform:scaleX(1.045)">e</span></div>
<div class="c" style="left:85.71px;top:186.76px;font-size:17.3px;color:#333;"><span style="left:0.00px;transform:scaleX(1.105)">m</span><span style="left:15.93px;transform:scaleX(0.985)">s</span><span style="left:24.45px;transform:scaleX(1.039)">c</span><span style="left:33.43px;transform:scaleX(0.850)">_</span><span style="left:41.61px;transform:scaleX(1.182)">l</span><span style="left:46.15px;transform:scaleX(1.045)">e</span><span style="left:56.21px;transform:scaleX(1.119)">v</span><span style="left:65.89px;transform:scaleX(1.045)">e</span><span style="left:75.95px;transform:scaleX(1.182)">l</span></div>
<div class="c" style="left:85.74px;top:224.16px;font-size:17.3px;color:#333;"><span style="left:0.00px;transform:scaleX(1.334)">t</span><span style="left:6.41px;transform:scaleX(1.045)">e</span><span style="left:16.47px;transform:scaleX(1.039)">c</span><span style="left:25.46px;transform:scaleX(1.077)">h</span><span style="left:35.82px;transform:scaleX(0.850)">_</span><span style="left:44.00px;transform:scaleX(1.041)">a</span><span style="left:54.02px;transform:scaleX(1.167)">r</span><span style="left:60.74px;transform:scaleX(1.045)">e</span><span style="left:70.44px;transform:scaleX(1.041)">a</span></div>
<div class="c" style="left:34.05px;top:261.66px;font-size:17.3px;color:#333;"><span style="left:0.00px;transform:scaleX(1.077)">u</span><span style="left:10.36px;transform:scaleX(1.077)">n</span><span style="left:20.73px;transform:scaleX(1.079)">d</span><span style="left:31.10px;transform:scaleX(1.045)">e</span><span style="left:41.16px;transform:scaleX(1.167)">r</span><span style="left:47.88px;transform:scaleX(1.079)">g</span><span style="left:57.98px;transform:scaleX(1.167)">r</span><span style="left:64.70px;transform:scaleX(1.041)">a</span><span style="left:74.72px;transform:scaleX(1.079)">d</span><span style="left:85.10px;transform:scaleX(0.850)">_</span><span style="left:93.27px;transform:scaleX(1.182)">l</span><span style="left:97.81px;transform:scaleX(1.045)">e</span><span style="left:107.87px;transform:scaleX(1.119)">v</span><span style="left:117.55px;transform:scaleX(1.045)">e</span><span style="left:127.61px;transform:scaleX(1.182)">l</span></div>
<div class="c" style="left:69.81px;top:299.26px;font-size:17.3px;color:#333;"><span style="left:0.00px;transform:scaleX(1.077)">h</span><span style="left:10.36px;transform:scaleX(1.045)">e</span><span style="left:20.42px;transform:scaleX(1.041)">a</span><span style="left:30.44px;transform:scaleX(1.182)">l</span><span style="left:34.98px;transform:scaleX(1.334)">t</span><span style="left:41.39px;transform:scaleX(1.077)">h</span><span style="left:51.76px;transform:scaleX(0.850)">_</span><span style="left:59.93px;transform:scaleX(1.041)">a</span><span style="left:69.95px;transform:scaleX(1.167)">r</span><span style="left:76.67px;transform:scaleX(1.045)">e</span><span style="left:86.37px;transform:scaleX(1.041)">a</span></div>
<div class="c" style="left:82.02px;top:336.66px;font-size:17.3px;color:#333;"><span style="left:0.00px;transform:scaleX(1.182)">l</span><span style="left:4.54px;transform:scaleX(1.045)">e</span><span style="left:14.60px;transform:scaleX(1.079)">g</span><span style="left:24.98px;transform:scaleX(1.041)">a</span><span style="left:35.00px;transform:scaleX(1.182)">l</span><span style="left:39.54px;transform:scaleX(0.850)">_</span><span style="left:47.72px;transform:scaleX(1.041)">a</span><span style="left:57.74px;transform:scaleX(1.167)">r</span><span style="left:64.46px;transform:scaleX(1.045)">e</span><span style="left:74.16px;transform:scaleX(1.041)">a</span></div>
<div class="c" style="left:108.24px;top:373.76px;font-size:17.3px;color:#333;"><span style="left:0.00px;transform:scaleX(1.079)">g</span><span style="left:10.38px;transform:scaleX(1.045)">e</span><span style="left:20.44px;transform:scaleX(1.077)">n</span><span style="left:30.80px;transform:scaleX(1.079)">d</span><span style="left:41.18px;transform:scaleX(1.045)">e</span><span style="left:51.24px;transform:scaleX(1.167)">r</span></div>
<div class="c" style="left:118.12px;top:411.26px;font-size:17.3px;color:#333;"><span style="left:0.00px;transform:scaleX(1.070)">w</span><span style="left:13.37px;transform:scaleX(1.040)">o</span><span style="left:23.38px;transform:scaleX(1.167)">r</span><span style="left:30.10px;transform:scaleX(1.095)">k</span><span style="left:39.57px;transform:scaleX(0.985)">s</span></div>
<div class="c" style="left:69.49px;top:448.76px;font-size:17.3px;color:#333;"><span style="left:0.00px;transform:scaleX(1.040)">o</span><span style="left:10.00px;transform:scaleX(1.334)">t</span><span style="left:16.41px;transform:scaleX(1.077)">h</span><span style="left:26.78px;transform:scaleX(1.045)">e</span><span style="left:36.84px;transform:scaleX(1.167)">r</span><span style="left:43.56px;transform:scaleX(0.985)">s</span><span style="left:52.08px;transform:scaleX(0.850)">_</span><span style="left:60.25px;transform:scaleX(1.041)">a</span><span style="left:70.27px;transform:scaleX(1.167)">r</span><span style="left:76.99px;transform:scaleX(1.045)">e</span><span style="left:86.69px;transform:scaleX(1.041)">a</span></div>
<div class="c" style="left:79.40px;top:486.16px;font-size:17.3px;color:#333;"><span style="left:0.00px;transform:scaleX(1.079)">b</span><span style="left:10.38px;transform:scaleX(1.041)">a</span><span style="left:20.40px;transform:scaleX(1.039)">c</span><span style="left:29.39px;transform:scaleX(1.077)">h</span><span style="left:39.75px;transform:scaleX(0.850)">_</span><span style="left:47.92px;transform:scaleX(1.182)">l</span><span style="left:52.47px;transform:scaleX(1.045)">e</span><span style="left:62.53px;transform:scaleX(1.119)">v</span><span style="left:72.20px;transform:scaleX(1.045)">e</span><span style="left:82.26px;transform:scaleX(1.182)">l</span></div>
<div class="c" style="left:90.80px;top:523.46px;font-size:17.3px;color:#333;"><span style="left:0.00px;transform:scaleX(1.079)">g</span><span style="left:10.38px;transform:scaleX(1.040)">o</span><span style="left:20.38px;transform:scaleX(1.079)">b</span><span style="left:30.76px;transform:scaleX(0.850)">_</span><span style="left:38.93px;transform:scaleX(1.041)">a</span><span style="left:48.95px;transform:scaleX(1.167)">r</span><span style="left:55.68px;transform:scaleX(1.045)">e</span><span style="left:65.38px;transform:scaleX(1.041)">a</span></div>
<div class="c" style="left:107.41px;top:560.86px;font-size:17.3px;color:#333;"><span style="left:0.00px;transform:scaleX(0.985)">s</span><span style="left:8.52px;transform:scaleX(1.334)">t</span><span style="left:14.93px;transform:scaleX(1.077)">u</span><span style="left:25.29px;transform:scaleX(1.079)">d</span><span style="left:35.67px;transform:scaleX(1.182)">i</span><span style="left:40.21px;transform:scaleX(1.045)">e</span><span style="left:50.27px;transform:scaleX(0.985)">s</span></div>
<div class="c" style="left:70.33px;top:598.36px;font-size:17.3px;color:#333;"><span style="left:0.00px;transform:scaleX(1.041)">a</span><span style="left:10.02px;transform:scaleX(1.079)">d</span><span style="left:20.40px;transform:scaleX(1.105)">m</span><span style="left:36.32px;transform:scaleX(1.182)">i</span><span style="left:40.87px;transform:scaleX(1.077)">n</span><span style="left:51.23px;transform:scaleX(0.850)">_</span><span style="left:59.40px;transform:scaleX(1.041)">a</span><span style="left:69.42px;transform:scaleX(1.167)">r</span><span style="left:76.15px;transform:scaleX(1.045)">e</span><span style="left:85.85px;transform:scaleX(1.041)">a</span></div>
<div class="c" style="left:79.91px;top:635.66px;font-size:17.3px;color:#333;"><span style="left:0.00px;transform:scaleX(0.985)">s</span><span style="left:8.52px;transform:scaleX(1.041)">a</span><span style="left:18.54px;transform:scaleX(1.182)">l</span><span style="left:23.08px;transform:scaleX(1.045)">e</span><span style="left:33.14px;transform:scaleX(0.985)">s</span><span style="left:41.66px;transform:scaleX(0.850)">_</span><span style="left:49.83px;transform:scaleX(1.041)">a</span><span style="left:59.85px;transform:scaleX(1.167)">r</span><span style="left:66.57px;transform:scaleX(1.045)">e</span><span style="left:76.27px;transform:scaleX(1.041)">a</span></div>
<div class="c" style="left:88.03px;top:672.96px;font-size:17.3px;color:#333;"><span style="left:0.00px;transform:scaleX(1.079)">p</span><span style="left:10.38px;transform:scaleX(1.077)">h</span><span style="left:20.74px;transform:scaleX(1.079)">d</span><span style="left:31.12px;transform:scaleX(0.850)">_</span><span style="left:39.29px;transform:scaleX(1.182)">l</span><span style="left:43.84px;transform:scaleX(1.045)">e</span><span style="left:53.90px;transform:scaleX(1.119)">v</span><span style="left:63.57px;transform:scaleX(1.045)">e</span><span style="left:73.63px;transform:scaleX(1.182)">l</span></div>
<div class="c" style="left:81.77px;top:710.46px;font-size:17.3px;color:#333;"><span style="left:0.00px;transform:scaleX(1.045)">e</span><span style="left:10.06px;transform:scaleX(1.079)">d</span><span style="left:20.44px;transform:scaleX(1.077)">u</span><span style="left:30.80px;transform:scaleX(1.039)">c</span><span style="left:39.79px;transform:scaleX(0.850)">_</span><span style="left:47.96px;transform:scaleX(1.041)">a</span><span style="left:57.98px;transform:scaleX(1.167)">r</span><span style="left:64.71px;transform:scaleX(1.045)">e</span><span style="left:74.41px;transform:scaleX(1.041)">a</span></div>
<div class="c" style="left:100.90px;top:747.76px;font-size:17.3px;color:#333;"><span style="left:0.00px;transform:scaleX(1.198)">f</span><span style="left:5.76px;transform:scaleX(1.182)">i</span><span style="left:10.30px;transform:scaleX(1.077)">n</span><span style="left:20.66px;transform:scaleX(0.850)">_</span><span style="left:28.84px;transform:scaleX(1.041)">a</span><span style="left:38.86px;transform:scaleX(1.167)">r</span><span style="left:45.58px;transform:scaleX(1.045)">e</span><span style="left:55.28px;transform:scaleX(1.041)">a</span></div>
<div class="c" style="left:227.39px;top:800.26px;font-size:14.1px;color:#333;"><span style="left:0.00px;transform:scaleX(1.389)">−</span><span style="left:11.44px;transform:scaleX(1.107)">0</span><span style="left:20.12px;transform:scaleX(1.108)">.</span><span style="left:24.46px;transform:scaleX(1.107)">7</span><span style="left:33.15px;transform:scaleX(1.107)">5</span></div>
<div class="c" style="left:281.09px;top:800.26px;font-size:14.1px;color:#333;"><span style="left:0.00px;transform:scaleX(1.389)">−</span><span style="left:11.44px;transform:scaleX(1.107)">0</span><span style="left:20.12px;transform:scaleX(1.108)">.</span><span style="left:24.46px;transform:scaleX(1.107)">5</span><span style="left:33.15px;transform:scaleX(1.107)">0</span></div>
<div class="c" style="left:334.79px;top:800.26px;font-size:14.1px;color:#333;"><span style="left:0.00px;transform:scaleX(1.389)">−</span><span style="left:11.44px;transform:scaleX(1.107)">0</span><span style="left:20.12px;transform:scaleX(1.108)">.</span><span style="left:24.46px;transform:scaleX(1.107)">2</span><span style="left:33.15px;transform:scaleX(1.107)">5</span></div>
<div class="c" style="left:394.20px;top:800.26px;font-size:14.1px;color:#333;"><span style="left:0.00px;transform:scaleX(1.107)">0</span><span style="left:8.68px;transform:scaleX(1.108)">.</span><span style="left:13.02px;transform:scaleX(1.107)">0</span><span style="left:21.71px;transform:scaleX(1.107)">0</span></div>
<div class="c" style="left:447.90px;top:800.26px;font-size:14.1px;color:#333;"><span style="left:0.00px;transform:scaleX(1.107)">0</span><span style="left:8.68px;transform:scaleX(1.108)">.</span><span style="left:13.02px;transform:scaleX(1.107)">2</span><span style="left:21.71px;transform:scaleX(1.107)">5</span></div>
<div class="c" style="left:501.60px;top:800.26px;font-size:14.1px;color:#333;"><span style="left:0.00px;transform:scaleX(1.107)">0</span><span style="left:8.68px;transform:scaleX(1.108)">.</span><span style="left:13.02px;transform:scaleX(1.107)">5</span><span style="left:21.71px;transform:scaleX(1.107)">0</span></div>
<div class="c" style="left:555.30px;top:800.26px;font-size:14.1px;color:#333;"><span style="left:0.00px;transform:scaleX(1.107)">0</span><span style="left:8.68px;transform:scaleX(1.108)">.</span><span style="left:13.02px;transform:scaleX(1.107)">7</span><span style="left:21.71px;transform:scaleX(1.107)">5</span></div>
<div class="c" style="left:242.94px;top:819.04px;font-size:17.2px;color:#000;"><span style="left:0.00px;transform:scaleX(0.905)">S</span><span style="left:10.38px;transform:scaleX(0.990)">H</span><span style="left:22.67px;transform:scaleX(0.975)">A</span><span style="left:33.86px;transform:scaleX(0.859)">P</span><span style="left:48.91px;transform:scaleX(1.125)">v</span><span style="left:58.59px;transform:scaleX(1.047)">a</span><span style="left:68.61px;transform:scaleX(1.189)">l</span><span style="left:73.15px;transform:scaleX(1.083)">u</span><span style="left:83.51px;transform:scaleX(1.052)">e</span><span style="left:98.77px;transform:scaleX(1.114)">(</span><span style="left:105.15px;transform:scaleX(1.189)">i</span><span style="left:109.69px;transform:scaleX(1.112)">m</span><span style="left:125.62px;transform:scaleX(1.085)">p</span><span style="left:136.00px;transform:scaleX(1.047)">a</span><span style="left:146.02px;transform:scaleX(1.045)">c</span><span style="left:155.01px;transform:scaleX(1.342)">t</span><span style="left:166.61px;transform:scaleX(1.046)">o</span><span style="left:176.62px;transform:scaleX(1.083)">n</span><span style="left:192.18px;transform:scaleX(1.112)">m</span><span style="left:208.10px;transform:scaleX(1.046)">o</span><span style="left:218.11px;transform:scaleX(1.085)">d</span><span style="left:228.49px;transform:scaleX(1.052)">e</span><span style="left:238.54px;transform:scaleX(1.189)">l</span><span style="left:248.28px;transform:scaleX(1.046)">o</span><span style="left:258.29px;transform:scaleX(1.083)">u</span><span style="left:268.65px;transform:scaleX(1.342)">t</span><span style="left:275.06px;transform:scaleX(1.085)">p</span><span style="left:285.44px;transform:scaleX(1.083)">u</span><span style="left:295.80px;transform:scaleX(1.342)">t</span><span style="left:302.21px;transform:scaleX(1.114)">)</span></div>
<div class="c" style="left:639.24px;top:0.56px;font-size:14.1px;color:#000;"><span style="left:0.00px;transform:scaleX(1.004)">H</span><span style="left:10.23px;transform:scaleX(1.206)">i</span><span style="left:14.01px;transform:scaleX(1.101)">g</span><span style="left:22.64px;transform:scaleX(1.099)">h</span></div>
<div class="c" style="left:638.64px;top:786.76px;font-size:14.1px;color:#000;"><span style="left:0.00px;transform:scaleX(0.966)">L</span><span style="left:7.58px;transform:scaleX(1.061)">o</span><span style="left:15.66px;transform:scaleX(1.092)">w</span></div>
<div class="c" style="left:681.12px;top:438.13px;font-size:15.2px;color:#000;transform-origin:1.49px 12.87px;transform:rotate(-90deg);"><span style="left:0.00px;transform:scaleX(0.920)">F</span><span style="left:8.54px;transform:scaleX(1.081)">e</span><span style="left:16.87px;transform:scaleX(1.076)">a</span><span style="left:25.97px;transform:scaleX(1.379)">t</span><span style="left:31.79px;transform:scaleX(1.113)">u</span><span style="left:41.20px;transform:scaleX(1.206)">r</span><span style="left:47.31px;transform:scaleX(1.081)">e</span><span style="left:60.84px;transform:scaleX(1.156)">v</span><span style="left:69.62px;transform:scaleX(1.076)">a</span><span style="left:78.72px;transform:scaleX(1.222)">l</span><span style="left:82.85px;transform:scaleX(1.113)">u</span><span style="left:92.26px;transform:scaleX(1.081)">e</span></div>
</div></body></html>
